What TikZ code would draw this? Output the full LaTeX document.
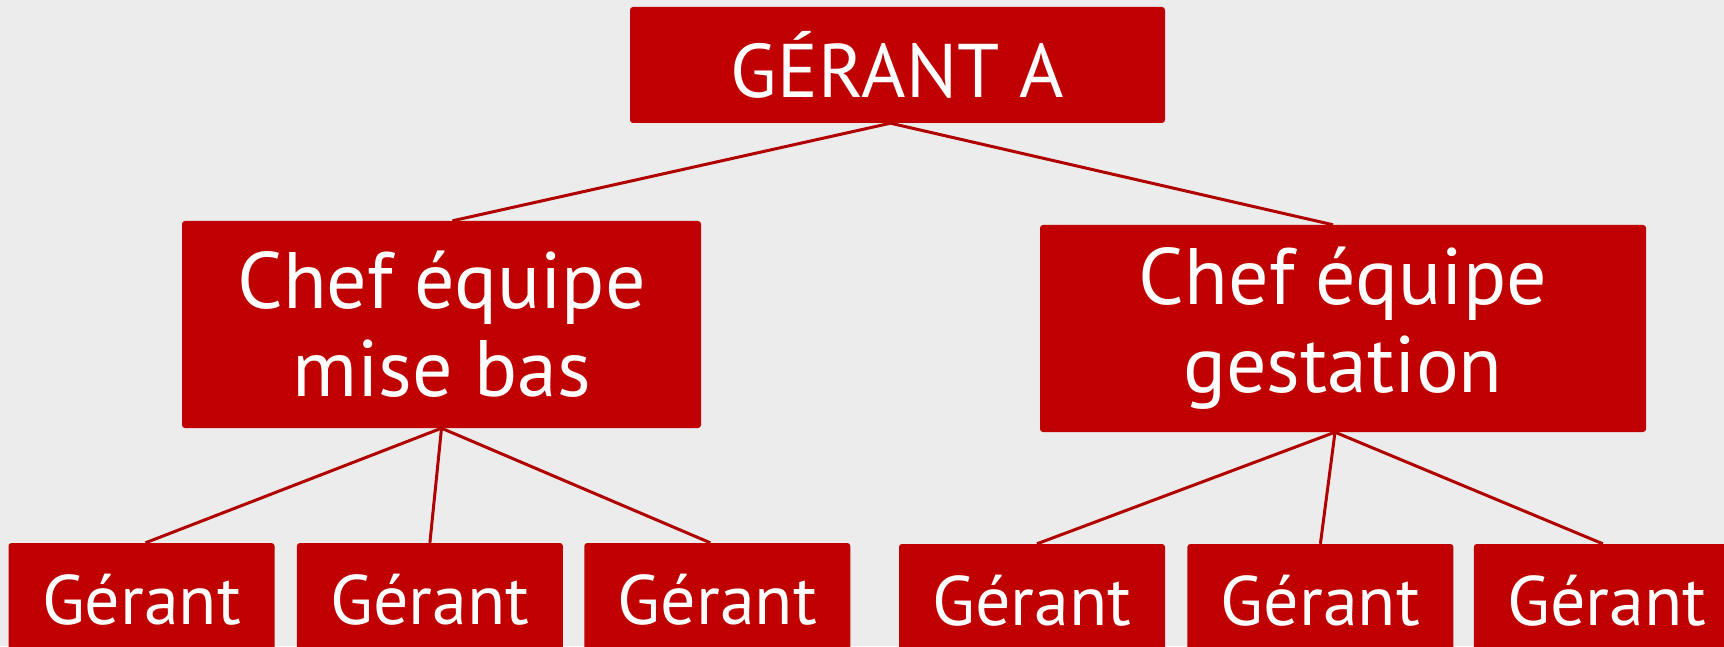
\documentclass[tikz,border=0pt]{standalone}
\usepackage{fontspec}
\setmainfont{PT Sans}
\usetikzlibrary{positioning}
\definecolor{boxred}{HTML}{C00000}
\definecolor{linered}{HTML}{B00000}
\definecolor{paper}{HTML}{ECECEC}
\tikzset{x=1pt,y=1pt,
box/.style={fill=boxred, text=white, rounded corners=3pt, inner sep=0pt, align=center},
head/.style={box, minimum width=535pt, minimum height=116pt, font=\fontsize{76}{84}\selectfont},
chef/.style={box, minimum height=207pt, font=\fontsize{80}{88}\selectfont},
gerant/.style={box, minimum width=266pt, minimum height=114pt, font=\fontsize{70}{76}\selectfont},
link/.style={draw=linered, line width=3pt}}

\begin{document}
\begin{tikzpicture}
\fill[paper] (0,0) rectangle (1724,646);
\useasboundingbox (0,0) rectangle (1724,646);
\node[head] (G) at (897.5,581) {GÉRANT A};
\node[chef, minimum width=519pt] (L) at (441.5,321.5) {Chef équipe\\mise bas};
\node[chef, minimum width=606pt] (R) at (1343,317.5) {Chef équipe\\gestation};
% ligne du bas
\node[gerant] (L1) at (141.5,46) {Gérant};
\node[gerant, right=22pt of L1] (L2) {Gérant};
\node[gerant, right=21pt of L2] (L3) {Gérant};
\node[gerant] (R1) at (1032,45) {Gérant};
\node[gerant, right=22pt of R1] (R2) {Gérant};
\node[gerant, right=20pt of R2] (R3) {Gérant};
\draw[link]
([xshift=-7pt]G.south) edge ([xshift=11pt]L.north)
([xshift=-7pt]G.south) edge ([xshift=-10pt]R.north)
(L.south) edge ([xshift=4pt]L1.north)
(L.south) edge (L2.north)
(L.south) edge ([xshift=-7pt]L3.north)
([xshift=-8pt]R.south) edge ([xshift=5pt]R1.north)
([xshift=-8pt]R.south) edge (R2.north)
([xshift=-8pt]R.south) edge ([xshift=-4pt]R3.north)
;
\end{tikzpicture}
\end{document}
